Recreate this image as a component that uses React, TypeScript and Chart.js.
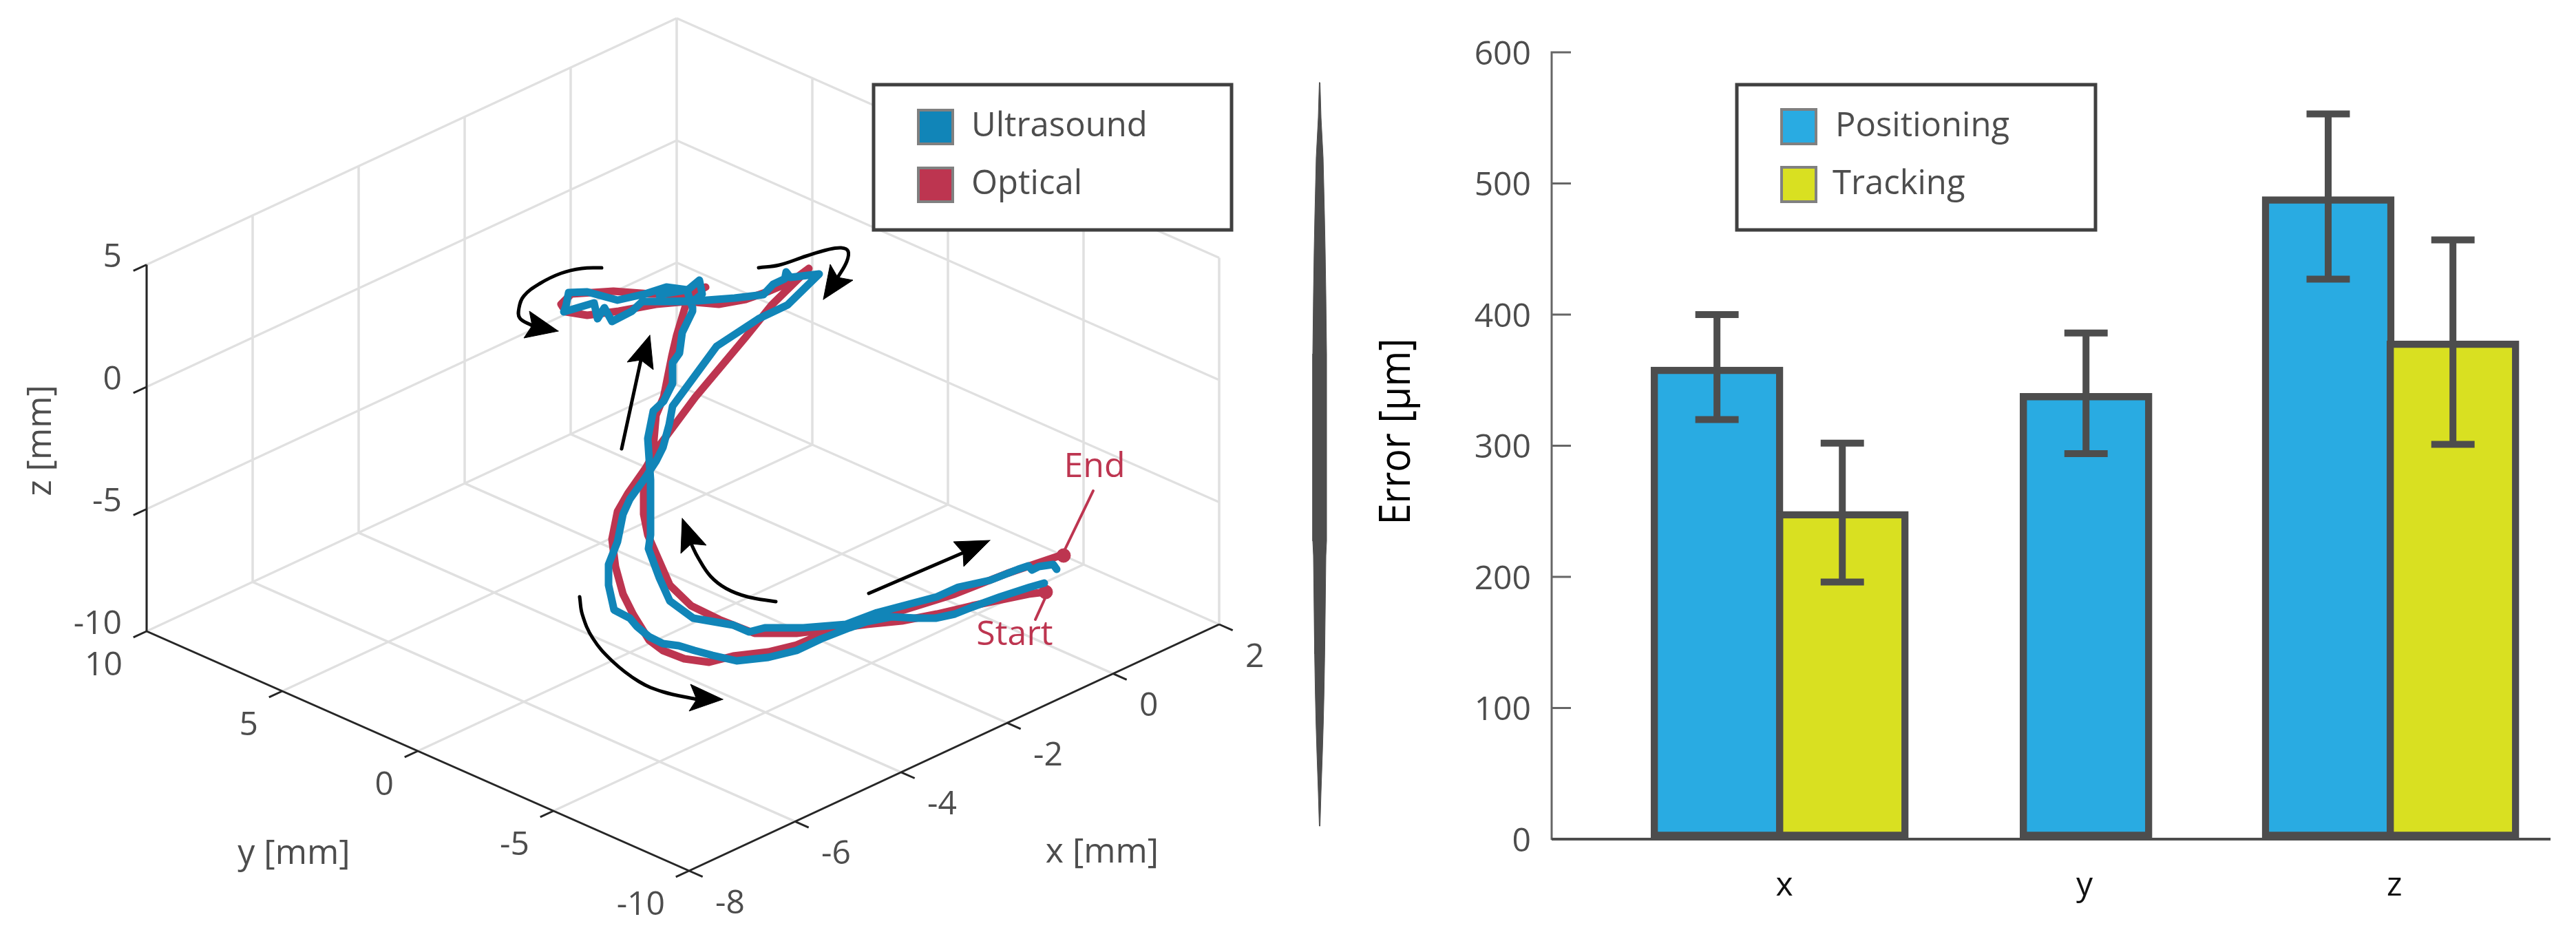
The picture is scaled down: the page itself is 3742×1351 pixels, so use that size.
import React, { useEffect, useRef } from "react";
import { Chart, registerables } from "chart.js";

Chart.register(...registerables);

// ---------- 3D panel: axis ticks (mm) ----------
const xTicks3d = [-8, -6, -4, -2, 0, 2];
const yTicks3d = [-10, -5, 0, 5, 10];
const zTicks3d = [-10, -5, 0, 5];

// ---------- 3D panel: trajectories, in the projected view plane ----------
const ultrasoundH = [1517,1496,1453,1412,1387,1359,1331,1295,1259,1234,1193,1157,1116,1070,1035,1009,986,963,943,925,915,892,884,884,897,905,915,938,953,963,972,977,1041,1102,1144,1190,1148,1142,1140,1123,1109,1067,1014,960,958,998,968,937,897,853,826,822,819,863,868,878,889,918,933,960,1006,1020,1016,998,1006,1006,991,987,977,977,964,949,941,945,945,945,945,942,958,973,1007,1065,1088,1111,1167,1229,1274,1361,1392,1438,1479,1494,1499,1509,1530,1535];
const ultrasoundV = [847,853,867,882,892,898,898,896,903,912,928,945,955,960,952,945,938,935,925,910,898,886,850,820,787,747,725,693,670,650,617,590,503,463,443,398,403,395,405,413,428,433,437,438,428,421,417,427,436,424,425,445,453,440,463,447,467,452,438,438,438,427,407,422,447,452,483,513,527,557,583,597,637,697,717,750,777,797,840,873,898,908,918,912,912,907,890,867,853,843,827,822,828,823,820,827];
const opticalH = [1519,1494,1412,1361,1310,1259,1213,1157,1116,1065,1030,994,963,943,920,905,894,889,897,912,938,952,1010,1083,1121,1175,1148,1117,1083,1044,998,953,899,853,822,815,830,891,945,998,1025,1002,995,983,976,964,953,949,935,935,941,951,973,1004,1045,1096,1157,1213,1259,1310,1387,1463,1540];
const opticalV = [860,863,880,892,902,907,913,937,947,953,962,957,945,930,893,863,823,783,743,717,680,655,577,490,443,390,410,423,435,442,438,442,452,458,453,442,427,423,427,428,417,430,447,487,517,577,603,650,703,747,777,800,850,880,900,920,920,913,907,887,863,833,807];

// ---------- 3D panel: direction arrows, start / end annotations ----------
const arrowShafts: number[][][] = [
  [[874,389],[845,390],[815,397],[784,412],[761,430],[754,447],[755,462],[773,473]],
  [[1102,389],[1132,385],[1171,372],[1201,363],[1222,360],[1232,365],[1230,380],[1217,403]],
  [[903,652],[931,523]],
  [[1127,874],[1086,867],[1055,855],[1032,837],[1014,810],[1004,790]],
  [[1262,862],[1399,803]],
  [[842,867],[846,893],[861,927],[889,960],[928,990],[963,1005],[1012,1016]],
];
const arrowHeads: number[][][] = [
  [[811,481],[769,452],[773,473],[761,491]],
  [[1196,435],[1206,384],[1217,403],[1239,407]],
  [[944,487],[911,526],[931,523],[949,537]],
  [[991,753],[989,804],[1004,790],[1026,792]],
  [[1438,785],[1385,787],[1399,803],[1400,823]],
  [[1050,1016],[1003,994],[1012,1016],[1001,1033]],
];
const endLeader = [[1588,713],[1547,798]];
const startLeader = [[1519,867],[1504,900]];
const endDot = [1545, 807];
const startDot = [1519, 860];

// ---------- stray sliver between the panels: half width along its length ----------
const sliverV = [120,171,229,271,314,364,429,514,786,807,893,950,1007,1050,1093,1150,1200];
const sliverHalf = [0.5,2,5,6,7,8,9,10,10,9,8,7.3,6.3,5.3,4,2,0.5];

// ---------- Bar panel ----------
const barCategories = ["x", "y", "z"];
const barTicks = [0, 0.984, 2];
const positioningX = [-0.221, 0.989, 1.783];
const positioningValues = [360, 340, 490];
const positioningLow = [320, 294, 427];
const positioningHigh = [400, 386, 553];
const trackingX = [0.19, 2.192];
const trackingValues = [250, 380];
const trackingLow = [196, 301];
const trackingHigh = [302, 457];

const FONT = '"Open Sans"';
const GREY = "#4d4d4d";
const BLUE_3D = "#1185b8";
const RED_3D = "#bd3550";
const BLUE = "#29abe2";
const YELLOW = "#d9e021";

const project = (x: number, y: number, z: number) => ({
  x: 1001 + (x + 8) * 77 - (y + 10) * 39.4,
  y: 1265 - (x + 8) * 35.8 - (y + 10) * 17.4 - (z + 10) * 35.5,
});
const GAP = { x: NaN, y: NaN };
const seg = (a: any, b: any) => [a, b, GAP];
const zip = (h: number[], v: number[]) => h.map((x, i) => ({ x, y: v[i] }));
const pts = (p: number[][]) => p.map(([x, y]) => ({ x, y }));

function gridPoints() {
  const out: any[] = [];
  for (const x of xTicks3d) {
    out.push(...seg(project(x, -10, -10), project(x, 10, -10)));
    out.push(...seg(project(x, 10, -10), project(x, 10, 5)));
  }
  for (const y of yTicks3d) {
    out.push(...seg(project(-8, y, -10), project(2, y, -10)));
    out.push(...seg(project(2, y, -10), project(2, y, 5)));
  }
  for (const z of zTicks3d) {
    out.push(...seg(project(-8, 10, z), project(2, 10, z)));
    out.push(...seg(project(2, 10, z), project(2, -10, z)));
  }
  return out;
}
function axisPoints() {
  const out: any[] = [];
  out.push(...seg(project(-8, 10, -10), project(-8, 10, 5)));
  out.push(...seg(project(-8, 10, -10), project(-8, -10, -10)));
  out.push(...seg(project(-8, -10, -10), project(2, -10, -10)));
  for (const z of zTicks3d) out.push(...seg(project(-8, 10, z), project(-8.25, 10, z)));
  for (const y of yTicks3d) out.push(...seg(project(-8, y, -10), project(-8.25, y, -10)));
  for (const x of xTicks3d) out.push(...seg(project(x, -10, -10), project(x, -10.5, -10)));
  return out;
}

function drawLegend(ctx: CanvasRenderingContext2D, box: number[], items: any[]) {
  ctx.save();
  ctx.fillStyle = "#fff";
  ctx.fillRect(box[0], box[1], box[2], box[3]);
  ctx.strokeStyle = "#404040";
  ctx.lineWidth = 5;
  ctx.strokeRect(box[0], box[1], box[2], box[3]);
  for (const it of items) {
    ctx.fillStyle = it.color;
    ctx.fillRect(it.px, it.py, it.pw, it.ph);
    ctx.strokeStyle = "#808080";
    ctx.lineWidth = 4;
    ctx.strokeRect(it.px, it.py, it.pw, it.ph);
    ctx.fillStyle = GREY;
    ctx.font = `49px ${FONT}`;
    ctx.textAlign = "left";
    ctx.textBaseline = "middle";
    ctx.fillText(it.label, it.tx, it.py + it.ph / 2);
  }
  ctx.restore();
}

const leftPlugin = {
  id: "leftText",
  afterDatasetsDraw(chart: any) {
    const { ctx, scales } = chart;
    const X = (v: number) => scales.x.getPixelForValue(v);
    const Y = (v: number) => scales.y.getPixelForValue(v);
    ctx.save();
    ctx.fillStyle = GREY;
    ctx.font = `48px ${FONT}`;
    ctx.textBaseline = "middle";
    ctx.textAlign = "right";
    for (const z of zTicks3d) {
      const p = project(-8, 10, z);
      ctx.fillText(String(z), X(p.x - 36), Y(p.y - 10));
    }
    for (const y of yTicks3d) {
      const p = project(-8, y, -10);
      ctx.fillText(String(y), X(p.x - 35), Y(p.y + 50));
    }
    ctx.textAlign = "left";
    for (const x of xTicks3d) {
      const p = project(x, -10, -10);
      ctx.fillText(String(x), X(p.x + 38), Y(p.y + 48));
    }
    ctx.textAlign = "center";
    ctx.font = `50px ${FONT}`;
    ctx.fillText("y [mm]", X(427), Y(1241));
    ctx.fillText("x [mm]", X(1601), Y(1239));
    ctx.save();
    ctx.translate(X(60), Y(640));
    ctx.rotate(-Math.PI / 2);
    ctx.fillText("z [mm]", 0, 0);
    ctx.restore();
    ctx.fillStyle = RED_3D;
    ctx.fillText("End", X(1590), Y(679));
    ctx.fillText("Start", X(1474), Y(923));
    ctx.restore();
    drawLegend(ctx, [1269, 123, 520, 211], [
      { color: BLUE_3D, label: "Ultrasound", px: 1334, py: 160, pw: 50, ph: 49, tx: 1411 },
      { color: RED_3D, label: "Optical", px: 1334, py: 244, pw: 50, ph: 49, tx: 1411 },
    ]);
  },
};

const rightPlugin = {
  id: "rightText",
  afterDatasetsDraw(chart: any) {
    const { ctx, scales, chartArea } = chart;
    ctx.save();
    // axis lines and inward ticks
    ctx.strokeStyle = "#666666";
    ctx.lineWidth = 3;
    ctx.beginPath();
    ctx.moveTo(chartArea.left, chartArea.top - 1.5);
    ctx.lineTo(chartArea.left, chartArea.bottom + 1);
    for (const t of scales.y.ticks) {
      const py = scales.y.getPixelForValue(t.value);
      ctx.moveTo(chartArea.left, py);
      ctx.lineTo(chartArea.left + 28, py);
    }
    ctx.stroke();
    ctx.strokeStyle = GREY;
    ctx.lineWidth = 4;
    ctx.beginPath();
    ctx.moveTo(chartArea.left, chartArea.bottom);
    ctx.lineTo(chartArea.right, chartArea.bottom);
    ctx.stroke();
    ctx.save();
    ctx.translate(chartArea.left - 224, 627);
    ctx.rotate(-Math.PI / 2);
    ctx.scale(1, 1.12);
    ctx.fillStyle = "#000";
    ctx.font = `56px ${FONT}`;
    ctx.textAlign = "center";
    ctx.textBaseline = "middle";
    ctx.fillText("Error [µm]", 0, 0);
    ctx.restore();
    ctx.restore();
    drawLegend(ctx, [573, 123, 521, 211], [
      { color: BLUE, label: "Positioning", px: 638, py: 159, pw: 50, ph: 50, tx: 716 },
      { color: YELLOW, label: "Tracking", px: 638, py: 243, pw: 50, ph: 50, tx: 712 },
    ]);
  },
};

function errorPoints(xs: number[], lo: number[], hi: number[]) {
  const cap = 0.071;
  const out: any[] = [];
  xs.forEach((x, i) => {
    out.push(...seg({ x, y: lo[i] }, { x, y: hi[i] }));
    out.push(...seg({ x: x - cap, y: lo[i] }, { x: x + cap, y: lo[i] }));
    out.push(...seg({ x: x - cap, y: hi[i] }, { x: x + cap, y: hi[i] }));
  });
  return out;
}

export default function App() {
  const leftRef = useRef<HTMLCanvasElement>(null);
  const rightRef = useRef<HTMLCanvasElement>(null);

  useEffect(() => {
    const line = (data: any[], color: string, width: number, order: number, extra: any = {}) => ({
      data,
      showLine: true,
      borderColor: color,
      backgroundColor: color,
      borderWidth: width,
      pointRadius: 0,
      tension: 0,
      order,
      borderJoinStyle: "round",
      borderCapStyle: "round",
      ...extra,
    });
    const sliverOutline = [
      ...sliverV.map((y, i) => ({ x: 1917 - sliverHalf[i], y })),
      ...sliverV.map((y, i) => ({ x: 1917 + sliverHalf[i], y })).reverse(),
      { x: 1917 - sliverHalf[0], y: sliverV[0] },
    ];
    const left = new Chart(leftRef.current!, {
      type: "scatter",
      data: {
        datasets: [
          line(gridPoints(), "#e0e0e0", 3.5, 100, { borderCapStyle: "butt" }),
          line(axisPoints(), "#262626", 3, 90, { borderCapStyle: "butt" }),
          line(endLeader.map(([x, y]) => ({ x, y })), RED_3D, 4, 60),
          line(startLeader.map(([x, y]) => ({ x, y })), RED_3D, 4, 60),
          line(zip(opticalH, opticalV), RED_3D, 11, 50),
          {
            data: pts([endDot, startDot]),
            pointRadius: 10,
            backgroundColor: RED_3D,
            borderColor: RED_3D,
            order: 45,
          },
          line(zip(ultrasoundH, ultrasoundV), BLUE_3D, 11, 40),
          ...arrowShafts.map((a) => line(pts(a), "#000", 5, 30, { tension: 0.4 })),
          ...arrowHeads.map((h) =>
            line(pts([...h, h[0]]), "#000", 1, 20, { fill: "shape" })
          ),
          line(sliverOutline, GREY, 1, 10, { fill: "shape" }),
        ] as any,
      },
      options: {
        responsive: false,
        animation: false,
        devicePixelRatio: 1,
        layout: { padding: 0, autoPadding: false },
        plugins: { legend: { display: false }, tooltip: { enabled: false } },
        scales: {
          x: { type: "linear", min: 0, max: 1950, display: false },
          y: { type: "linear", min: 0, max: 1351, reverse: true, display: false },
        },
      } as any,
      plugins: [leftPlugin],
    });

    const right = new Chart(rightRef.current!, {
      type: "bar",
      data: {
        datasets: [
          {
            type: "line",
            data: errorPoints(positioningX, positioningLow, positioningHigh),
            borderColor: GREY,
            borderWidth: 10,
            pointRadius: 0,
            tension: 0,
            order: 1,
          },
          {
            type: "line",
            data: errorPoints(trackingX, trackingLow, trackingHigh),
            borderColor: GREY,
            borderWidth: 10,
            pointRadius: 0,
            tension: 0,
            order: 1,
          },
          {
            label: "Positioning",
            data: zip(positioningX, positioningValues),
            backgroundColor: BLUE,
            borderColor: GREY,
            borderWidth: 10.5,
            borderSkipped: false,
            barThickness: 192,
            grouped: false,
            order: 3,
          },
          {
            label: "Tracking",
            data: zip(trackingX, trackingValues),
            backgroundColor: YELLOW,
            borderColor: GREY,
            borderWidth: 10.5,
            borderSkipped: false,
            barThickness: 192,
            grouped: false,
            order: 2,
          },
        ] as any,
      },
      options: {
        responsive: false,
        animation: false,
        devicePixelRatio: 1,
        layout: { padding: { left: 0, right: 37, top: 76, bottom: 0 }, autoPadding: false },
        plugins: { legend: { display: false }, tooltip: { enabled: false } },
        scales: {
          x: {
            type: "linear",
            min: -0.763,
            max: 2.512,
            offset: false,
            afterFit: (s: any) => { s.height = 132; },
            afterBuildTicks: (s: any) => { s.ticks = barTicks.map((value) => ({ value })); },
            ticks: {
              autoSkip: false,
              maxRotation: 0,
              padding: 40,
              color: "#111",
              font: { family: "Open Sans", size: 48 },
              callback: (v: number) => barCategories[barTicks.indexOf(v)] ?? "",
            },
            grid: { drawOnChartArea: false, drawTicks: false },
            border: { display: false },
          },
          y: {
            type: "linear",
            min: 0,
            max: 600,
            afterFit: (s: any) => { s.width = 304; },
            ticks: {
              stepSize: 100,
              padding: 30,
              labelOffset: 4,
              color: GREY,
              font: { family: "Open Sans", size: 48 },
            },
            grid: { drawOnChartArea: false, drawTicks: false },
            border: { display: false },
          },
        },
      } as any,
      plugins: [rightPlugin],
    });

    return () => {
      left.destroy();
      right.destroy();
    };
  }, []);

  return (
    <div style={{ position: "fixed", left: 0, top: 0, width: 3742, height: 1351, background: "#fff", overflow: "hidden" }}>
      <canvas ref={leftRef} width={1950} height={1351} style={{ position: "absolute", left: 0, top: 0 }} />
      <canvas ref={rightRef} width={1792} height={1351} style={{ position: "absolute", left: 1950, top: 0 }} />
    </div>
  );
}
